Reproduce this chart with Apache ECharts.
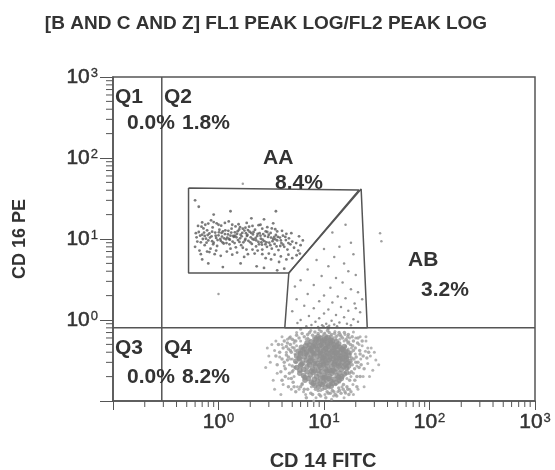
<!DOCTYPE html>
<html><head><meta charset="utf-8">
<script src="https://cdn.jsdelivr.net/npm/echarts@6/dist/echarts.min.js"></script>
<style>html,body{margin:0;padding:0;background:#fff}#c{width:555px;height:470px}</style>
</head><body><div id="c"></div>
<script>
const FONT = 'Liberation Sans, Arial, sans-serif';
const titleText = '[B AND C AND Z] FL1 PEAK LOG/FL2 PEAK LOG';
const xName = 'CD 14 FITC';
const yName = 'CD 16 PE';
const axisMin = 0.1, axisMax = 1000;
const minorTickVals = [0.2,0.3,0.4,0.5,0.6,0.7,0.8,0.9,2,3,4,5,6,7,8,9,20,30,40,50,60,70,80,90,200,300,400,500,600,700,800,900];
const quadX = 0.29, quadY = 0.8;
const gateAA = [[0.52,42.6],[21.5,40.3],[4.64,3.8],[0.52,3.8],[0.52,42.6]];
const gateAB = [[4.64,3.8],[22.5,41.4],[25.7,0.8],[4.25,0.8],[4.64,3.8]];
const quadLabels = ['Q1','Q2','Q3','Q4'];
const quadPcts = ['0.0%','1.8%','0.0%','8.2%'];
const gateLabels = ['AA','AB'];
const gatePcts = ['8.4%','3.2%'];

// dense core of the main population (Q4)
const corePoints = [
 [8.4,0.58],[9.2,0.6],[10.1,0.57],[10.9,0.61],[11.6,0.56],[9.6,0.55],[8.8,0.62],[10.5,0.59],
 [6.9,0.52],[7.6,0.54],[8.1,0.5],[8.9,0.53],[9.4,0.49],[10.2,0.55],[10.8,0.51],[11.5,0.53],[12.3,0.5],[13.1,0.54],
 [13.8,0.51],[7.3,0.49],[9.8,0.52],[12.0,0.55],[8.5,0.555],
 [6.1,0.46],[6.7,0.48],[7.2,0.45],[7.9,0.47],[8.6,0.44],[9.1,0.48],[9.7,0.46],[10.4,0.445],[11.0,0.47],[11.8,0.49],
 [12.5,0.45],[13.3,0.48],[14.1,0.46],[14.9,0.44],[15.6,0.47],[6.5,0.44],[8.3,0.485],[10.7,0.49],[12.9,0.465],[7.5,0.43],
 [5.7,0.41],[6.3,0.43],[6.8,0.4],[7.4,0.42],[8.0,0.39],[8.7,0.43],[9.3,0.405],[9.9,0.42],[10.6,0.395],[11.2,0.43],
 [11.9,0.41],[12.7,0.39],[13.5,0.42],[14.3,0.4],[15.2,0.43],[16.1,0.41],[16.8,0.4],[6.0,0.39],[7.7,0.44],[10.3,0.44],
 [12.2,0.435],[14.7,0.44],[9.0,0.39],[13.0,0.395],
 [5.5,0.36],[6.0,0.38],[6.5,0.35],[7.0,0.37],[7.5,0.345],[8.1,0.38],[8.6,0.355],[9.2,0.37],[9.7,0.34],[10.3,0.365],
 [10.9,0.385],[11.4,0.35],[12.1,0.37],[12.8,0.345],[13.6,0.375],[14.4,0.355],[15.3,0.38],[16.2,0.35],[17.2,0.365],
 [5.8,0.34],[7.8,0.39],[9.5,0.385],[11.7,0.39],[13.2,0.39],[15.8,0.37],[6.7,0.385],[10.0,0.35],[14.0,0.34],
 [5.4,0.31],[5.9,0.33],[6.3,0.295],[6.8,0.32],[7.2,0.3],[7.7,0.335],[8.2,0.31],[8.7,0.29],[9.1,0.325],[9.6,0.305],
 [10.1,0.335],[10.6,0.295],[11.1,0.32],[11.7,0.3],[12.3,0.33],[12.9,0.31],[13.6,0.29],[14.3,0.325],[15.0,0.3],
 [15.8,0.32],[16.7,0.295],[17.6,0.31],[6.1,0.285],[8.0,0.29],[9.9,0.29],[11.4,0.34],[13.2,0.335],[14.8,0.335],
 [16.3,0.33],[7.4,0.315],[10.4,0.315],[12.6,0.29],
 [5.5,0.26],[6.0,0.275],[6.4,0.245],[6.9,0.265],[7.3,0.28],[7.8,0.25],[8.3,0.27],[8.8,0.24],[9.3,0.26],[9.8,0.28],
 [10.3,0.25],[10.8,0.27],[11.3,0.24],[11.9,0.265],[12.5,0.28],[13.1,0.25],[13.8,0.27],[14.6,0.245],[15.4,0.265],
 [16.3,0.255],[17.1,0.27],[5.9,0.24],[7.6,0.235],[9.1,0.275],[10.6,0.235],[12.2,0.24],[14.2,0.28],[16.0,0.28],
 [5.9,0.22],[6.4,0.205],[6.9,0.23],[7.4,0.21],[7.9,0.225],[8.5,0.2],[9.0,0.215],[9.5,0.23],[10.1,0.205],[10.7,0.225],
 [11.3,0.2],[11.9,0.22],[12.6,0.23],[13.3,0.205],[14.0,0.22],[14.8,0.2],[15.6,0.215],[16.4,0.225],[6.6,0.195],
 [8.2,0.235],[9.8,0.195],[11.6,0.235],[13.7,0.195],
 [6.6,0.18],[7.1,0.19],[7.6,0.17],[8.1,0.185],[8.7,0.175],[9.3,0.19],[9.9,0.17],[10.5,0.18],[11.1,0.19],[11.7,0.175],
 [12.4,0.185],[13.1,0.17],[13.9,0.18],[14.6,0.19],[7.9,0.165],[10.2,0.195],[12.0,0.165],
 [8.2,0.155],[8.9,0.15],[9.6,0.16],[10.3,0.148],[11.0,0.157],[11.7,0.152],[9.2,0.163]
];
// ring around the core
const ringPoints = [
 [4.3,0.25],[4.5,0.32],[4.4,0.37],[4.6,0.44],[4.7,0.22],[4.9,0.4],[5.0,0.27],[4.8,0.5],[5.1,0.17],[4.2,0.3],
 [4.6,0.35],[5.2,0.45],[4.9,0.19],[5.3,0.26],[4.4,0.47],
 [18.5,0.28],[19.2,0.33],[18.0,0.4],[19.5,0.25],[20.2,0.35],[18.7,0.48],[21.0,0.3],[19.0,0.42],[20.5,0.2],[22.0,0.38],
 [18.2,0.23],[17.8,0.5],[21.5,0.26],[19.8,0.45],[17.5,0.18],
 [6.5,0.62],[7.8,0.65],[8.8,0.68],[10.5,0.64],[11.8,0.66],[13.0,0.62],[14.5,0.63],[7.2,0.57],[9.8,0.63],[12.2,0.6],
 [15.0,0.6],[16.2,0.58],[5.8,0.6],[8.2,0.71],[11.2,0.7],
 [7.0,0.14],[8.8,0.135],[9.7,0.14],[10.7,0.13],[12.0,0.135],[13.8,0.145],[15.2,0.14],[7.5,0.125],[11.5,0.125],
 [14.5,0.125],[6.0,0.15],[16.5,0.15],[9.0,0.12],[12.8,0.12],
 [3.6,0.28],[3.8,0.4],[3.9,0.23],[4.0,0.33],[4.1,0.45],[3.7,0.5],[4.3,0.2],[4.5,0.52],[4.0,0.18],[3.5,0.36],
 [4.7,0.6],[4.2,0.55],[5.0,0.58],[4.6,0.15],[5.4,0.13],
 [20.0,0.3],[21.8,0.42],[22.5,0.28],[23.5,0.36],[24.0,0.25],[20.8,0.52],[19.6,0.18],[22.0,0.2],[25.5,0.34],[23.0,0.55],
 [19.0,0.55],[21.0,0.6],[18.5,0.62],[26.5,0.4],[20.5,0.15],
 [6.2,0.68],[7.3,0.7],[9.4,0.72],[10.8,0.74],[12.6,0.68],[13.9,0.7],[15.6,0.7],[17.0,0.66],[5.5,0.65],[8.6,0.6],
 [11.6,0.63],[14.2,0.66],[16.8,0.62],[7.0,0.66],[10.0,0.67],
 [6.8,0.11],[7.8,0.12],[9.3,0.115],[10.4,0.11],[11.0,0.125],[12.4,0.13],[13.2,0.115],[14.0,0.135],[15.8,0.13],
 [16.8,0.14],[18.0,0.13],[6.5,0.14],[5.2,0.15],[8.3,0.14],[17.2,0.12],
 [5.4,0.55],[17.5,0.22],[18.3,0.34],[4.8,0.42],[5.0,0.23],[16.9,0.52],[6.2,0.16],[15.3,0.16],[8.0,0.6],[12.8,0.16]
];
// sparser halo of the main population
const haloPoints = [
 [4.8,0.62],[5.5,0.7],[6.8,0.58],[7.5,0.74],[8.3,0.63],[9.4,0.57],[10.2,0.69],[11.5,0.6],[12.7,0.72],[14.1,0.58],
 [15.8,0.66],[17.5,0.6],[19.0,0.71],[6.0,0.77],[9.0,0.76],[11.0,0.78],[13.5,0.65],[8.0,0.55],[16.5,0.55],[5.2,0.56],
 [3.1,0.3],[3.4,0.42],[3.6,0.22],[3.8,0.35],[4.0,0.5],[4.2,0.27],[4.4,0.4],[4.6,0.19],[4.8,0.33],[5.0,0.46],
 [5.1,0.24],[5.3,0.38],[3.5,0.55],[4.1,0.16],[4.9,0.14],[2.9,0.45],[3.3,0.18],[4.5,0.58],[5.4,0.3],[5.2,0.52],
 [17.5,0.3],[18.2,0.45],[19.0,0.22],[19.8,0.38],[20.5,0.27],[21.5,0.5],[22.3,0.33],[23.5,0.2],[24.7,0.41],[26.0,0.29],
 [27.5,0.36],[29.0,0.24],[31.0,0.32],[18.8,0.16],[21.0,0.14],[17.2,0.54],[25.0,0.55],[20.0,0.6],[23.0,0.48],[28.0,0.45],
 [5.8,0.14],[6.7,0.12],[7.6,0.15],[8.4,0.11],[9.3,0.135],[10.2,0.12],[11.2,0.145],[12.3,0.115],[13.5,0.13],[14.8,0.15],
 [16.0,0.125],[17.5,0.14],[8.0,0.1],[11.8,0.105],[15.5,0.11],[6.2,0.165],[10.8,0.155],[13.0,0.16],
 [5.2,0.2],[5.0,0.33],[5.3,0.42],[17.0,0.25],[17.8,0.38],[16.5,0.19],[5.6,0.15],[16.0,0.47],[6.0,0.55],[15.5,0.55],
 [13.0,0.58],[9.0,0.6],[7.0,0.6],[11.0,0.56],[18.0,0.2],[17.0,0.44],[5.5,0.48],[4.7,0.28],[6.4,0.13],[14.0,0.17],
 [3.0,0.36],[2.8,0.26],[3.2,0.5],[3.4,0.14],[26,0.45],[30,0.4],[33,0.28],[27,0.2],[24,0.15],[22,0.62],
 [4.0,0.62],[3.9,0.12],[19,0.12],[25,0.62]
];
// population inside gate AB
const abPoints = [
 [12,12],[16,15],[18,9],[14,8],[10,7.5],[19,6.5],[12.5,6],[8.5,5.5],[15.5,5],[11,4.6],[7,4.2],[17,4],[20,3.6],
 [9.5,3.5],[13,3.3],[6,3.1],[15,2.9],[5.3,2.6],[8,2.7],[11.5,2.5],[18,2.4],[21,2.2],[7,2.1],[10,2.0],[13.5,1.95],
 [16,1.85],[5.5,1.8],[9,1.7],[12,1.65],[19.5,1.6],[6.5,1.5],[14.5,1.45],[8,1.4],[11,1.35],[17,1.3],[5,1.28],
 [22,1.25],[10,1.2],[13,1.15],[7.2,1.12],[15.5,1.08],[9,1.05],[19,1.02],[6,1.0],[11.8,0.98],[8.3,0.95],[14,0.93],
 [16.5,0.9],[10.5,0.9],[12.5,0.88],[9.6,0.86],[7.6,0.87],[11.2,0.85],[13.3,0.84],[18,0.86],[21,0.95],[5.6,0.92],
 [6.8,0.84],[20,1.4],[23,1.8],[10.8,0.82],[9.9,0.83],[8.8,0.82]
];
// population inside gate AA
const aaPoints = [
 [0.62,10.5],[0.65,12.2],[0.68,9.1],[0.7,11.3],[0.72,13.5],[0.74,8.4],[0.76,10.1],[0.78,12.8],[0.8,9.6],[0.82,11.7],
 [0.84,7.6],[0.86,10.8],[0.88,13.9],[0.9,9.0],[0.93,12.0],[0.95,10.3],[0.97,8.2],[1.0,11.1],[1.02,13.0],[1.05,9.5],
 [1.08,10.7],[1.1,12.4],[1.12,8.8],[1.15,11.5],[1.18,9.9],[0.66,7.2],[0.75,15.0],[0.92,6.5],[1.06,14.6],[0.6,8.0],
 [0.85,17.0],[0.7,5.6],
 [1.21,10.4],[1.24,12.6],[1.27,8.6],[1.3,11.0],[1.33,13.4],[1.36,9.3],[1.4,10.6],[1.43,12.1],[1.46,7.9],[1.5,11.6],
 [1.53,9.7],[1.57,13.1],[1.6,10.2],[1.64,8.4],[1.68,11.9],[1.72,9.1],[1.76,12.7],[1.8,10.0],[1.84,7.4],[1.88,11.2],
 [1.92,9.5],[1.97,12.3],[2.02,10.5],[2.07,8.7],[2.12,11.4],[2.17,9.8],[2.22,13.0],[2.27,8.1],[2.33,10.9],[2.39,9.2],
 [2.45,11.8],[1.35,6.4],[1.55,15.2],[1.75,6.0],[1.95,14.2],[2.2,6.6],[2.4,14.8],[1.25,16.5],[1.62,5.0],[2.05,18.0],
 [2.3,4.6],
 [2.52,10.1],[2.58,8.5],[2.65,11.5],[2.72,9.4],[2.8,12.4],[2.88,8.0],[2.95,10.6],[3.03,9.0],[3.12,11.9],[3.2,7.6],
 [3.3,10.0],[3.4,8.7],[3.5,11.2],[3.6,9.6],[3.7,7.3],[3.82,10.4],[3.95,8.9],[4.08,11.0],[4.2,8.0],[4.35,9.7],
 [4.5,7.4],[4.65,10.2],[4.8,8.6],[5.0,9.3],[5.2,7.8],[5.45,8.9],[5.7,7.2],[6.0,8.4],[2.6,6.5],[2.9,14.0],
 [3.15,5.6],[3.45,13.2],[3.75,5.2],[4.0,12.6],[4.4,5.6],[4.9,11.8],[5.5,6.3],[2.7,4.4],[3.3,15.6],[6.3,9.6],
 [4.2,4.3],[5.8,10.8],[0.9,20],[1.3,22],[0.65,25],[2.7,17.5],[1.1,4.5],[0.8,5.0],[3.6,4.1],
 [0.63,9.3],[0.67,11.0],[0.71,10.0],[0.73,12.0],[0.77,9.0],[0.79,11.2],[0.83,10.4],[0.87,12.3],[0.89,8.6],[0.94,11.0],
 [0.98,9.7],[1.01,12.1],[1.04,10.0],[1.07,11.9],[1.13,10.2],[1.16,12.8],[1.19,8.9],[1.23,11.4],[1.28,9.8],[1.32,12.0],
 [1.38,10.9],[1.42,8.9],[1.48,10.5],[1.52,12.5],[1.58,9.2],[1.66,10.8],[1.7,13.4],[1.78,9.6],[1.86,10.9],[1.9,12.9],
 [2.0,9.1],[2.1,10.0],[2.15,12.2],[2.25,10.3],[2.35,11.6],[2.42,8.6],[2.5,11.0],[2.62,9.8],[2.75,10.9],[2.85,9.1],
 [3.0,11.3],[3.1,8.4],[3.25,9.4],[3.38,10.6],[3.55,8.1],[3.65,10.6],[3.9,9.6],[4.1,8.5],[4.3,10.6],[4.6,8.9],
 [0.69,14.2],[0.96,15.6],[1.45,14.3],[1.85,15.8],[2.6,13.4],[0.78,7.0],[1.2,7.0],[1.7,7.8],[2.35,7.2],[3.0,6.6],
 [0.64,14.5],[0.7,16.0],[0.8,15.5],[0.9,16.2],[1.0,15.0],[1.15,15.8],[1.35,15.0],[1.6,14.0],[1.8,13.8],[2.1,14.5],
 [2.5,15.0],[2.9,12.2],[3.2,13.5],[3.6,12.4],[4.4,11.6],
 [0.68,6.5],[0.82,6.9],[0.95,7.2],[1.05,6.2],[1.3,7.6],[1.5,6.8],[1.9,6.5],[2.1,7.4],[2.6,7.4],[2.8,5.8],
 [3.4,6.4],[3.9,6.1],[4.6,6.4],[5.0,5.8],[5.9,6.6],
 [0.61,11.8],[0.74,10.9],[0.87,9.4],[1.09,9.1],[1.26,10.0],[1.44,11.0],[1.62,11.3],[1.82,11.8],[2.04,11.9],[2.28,9.6],
 [2.55,9.1],[2.78,8.6],[3.15,10.4],[3.45,9.9],[3.85,8.2],[0.6,30],[3.5,22]
];
const strayPoints = [[1.0,2.1],[35,9.4],[1.7,48],[34,11.8]];

const sup = v => {
  if (Math.abs(v - axisMin) < 1e-9) return '';
  const e = Math.round(Math.log10(v));
  return '{a|10}{b|' + e + '}';
};
const rich = {
  a: {fontSize: 21, color: '#333', fontFamily: FONT, textBorderColor: '#333', textBorderWidth: 0.5},
  b: {fontSize: 13, color: '#333', fontFamily: FONT, verticalAlign: 'top', padding: [0, 0, 0, 1], textBorderColor: '#333', textBorderWidth: 0.3}
};
const LINE = '#555';

function xTick(params, api) {
  const p = api.coord([api.value(0), api.value(1)]);
  return {type: 'line', shape: {x1: p[0], y1: p[1], x2: p[0], y2: p[1] + 6}, style: {stroke: LINE, lineWidth: 1}};
}
function yTick(params, api) {
  const p = api.coord([api.value(0), api.value(1)]);
  return {type: 'line', shape: {x1: p[0] - 7, y1: p[1], x2: p[0], y2: p[1]}, style: {stroke: LINE, lineWidth: 1}};
}

function txt(s, x, y, size, weight, align) {
  return {type: 'text', x: x, y: y, silent: true, z: 100,
    style: {text: s, fontSize: size, fontWeight: weight || 'normal', fontFamily: FONT, fill: '#333',
      align: align || 'left', verticalAlign: 'middle', textAlign: align || 'left', textVerticalAlign: 'middle'}};
}

const chart = echarts.init(document.getElementById('c'), null, {renderer: 'canvas'});
chart.setOption({
  animation: false,
  backgroundColor: '#fff',
  grid: {left: 113, top: 77, right: 20, bottom: 69, show: true, borderColor: LINE, borderWidth: 1.5, backgroundColor: 'transparent'},
  xAxis: {
    type: 'log', logBase: 10, min: axisMin, max: axisMax,
    axisLine: {show: true, lineStyle: {color: LINE, width: 1.5}},
    axisTick: {show: true, inside: false, length: 9, lineStyle: {color: LINE}},
    splitLine: {show: false},
    axisLabel: {margin: 11, formatter: sup, rich: rich}
  },
  yAxis: {
    type: 'log', logBase: 10, min: axisMin, max: axisMax,
    name: yName, nameLocation: 'middle', nameGap: 84, nameRotate: 90,
    nameTextStyle: {fontSize: 18, fontWeight: 'bold', color: '#333', fontFamily: FONT},
    axisLine: {show: true, lineStyle: {color: LINE, width: 1.5}},
    axisTick: {show: true, inside: false, length: 13, lineStyle: {color: LINE}},
    splitLine: {show: false},
    axisLabel: {margin: 15, formatter: sup, rich: rich}
  },
  graphic: [
    txt(titleText, 266, 24, 19, 'bold', 'center'),
    txt(xName, 323, 461, 20, 'bold', 'center'),
    txt(quadLabels[0], 115, 97, 21, 'bold'), txt(quadLabels[1], 164, 97, 21, 'bold'),
    txt(quadPcts[0], 127, 123, 21, 'bold'), txt(quadPcts[1], 182, 123, 21, 'bold'),
    txt(quadLabels[2], 115, 348, 21, 'bold'), txt(quadLabels[3], 164, 348, 21, 'bold'),
    txt(quadPcts[2], 127, 377, 21, 'bold'), txt(quadPcts[3], 182, 377, 21, 'bold'),
    txt(gateLabels[0], 263, 158, 21, 'bold'), txt(gatePcts[0], 275, 183, 21, 'bold'),
    txt(gateLabels[1], 408, 260, 21, 'bold'), txt(gatePcts[1], 421, 290, 21, 'bold')
  ],
  series: [
    {type: 'scatter', data: haloPoints, symbolSize: 3, itemStyle: {color: '#a3a3a3'}, silent: true},
    {type: 'scatter', data: ringPoints, symbolSize: 3.5, itemStyle: {color: '#9a9a9a'}, silent: true},
    {type: 'scatter', data: corePoints, symbolSize: 5.5, itemStyle: {color: '#8e8e8e'}, silent: true},
    {type: 'scatter', data: abPoints, symbolSize: 2.5, itemStyle: {color: '#7a7a7a'}, silent: true},
    {type: 'scatter', data: aaPoints, symbolSize: 2.8, itemStyle: {color: '#5a5a5a'}, silent: true},
    {type: 'scatter', data: strayPoints, symbolSize: 2.5, itemStyle: {color: '#888'}, silent: true},
    {type: 'line', data: [[quadX, axisMin], [quadX, axisMax]], symbol: 'none', lineStyle: {color: LINE, width: 1.5}, silent: true},
    {type: 'line', data: [[axisMin, quadY], [axisMax, quadY]], symbol: 'none', lineStyle: {color: LINE, width: 1.5}, silent: true},
    {type: 'line', data: gateAA, symbol: 'none', lineStyle: {color: LINE, width: 1.5}, silent: true},
    {type: 'line', data: gateAB, symbol: 'none', lineStyle: {color: LINE, width: 1.5}, silent: true},
    {type: 'custom', renderItem: xTick, clip: false, silent: true, data: minorTickVals.map(v => [v, axisMin])},
    {type: 'custom', renderItem: yTick, clip: false, silent: true, data: minorTickVals.map(v => [axisMin, v])}
  ]
});
</script></body></html>
